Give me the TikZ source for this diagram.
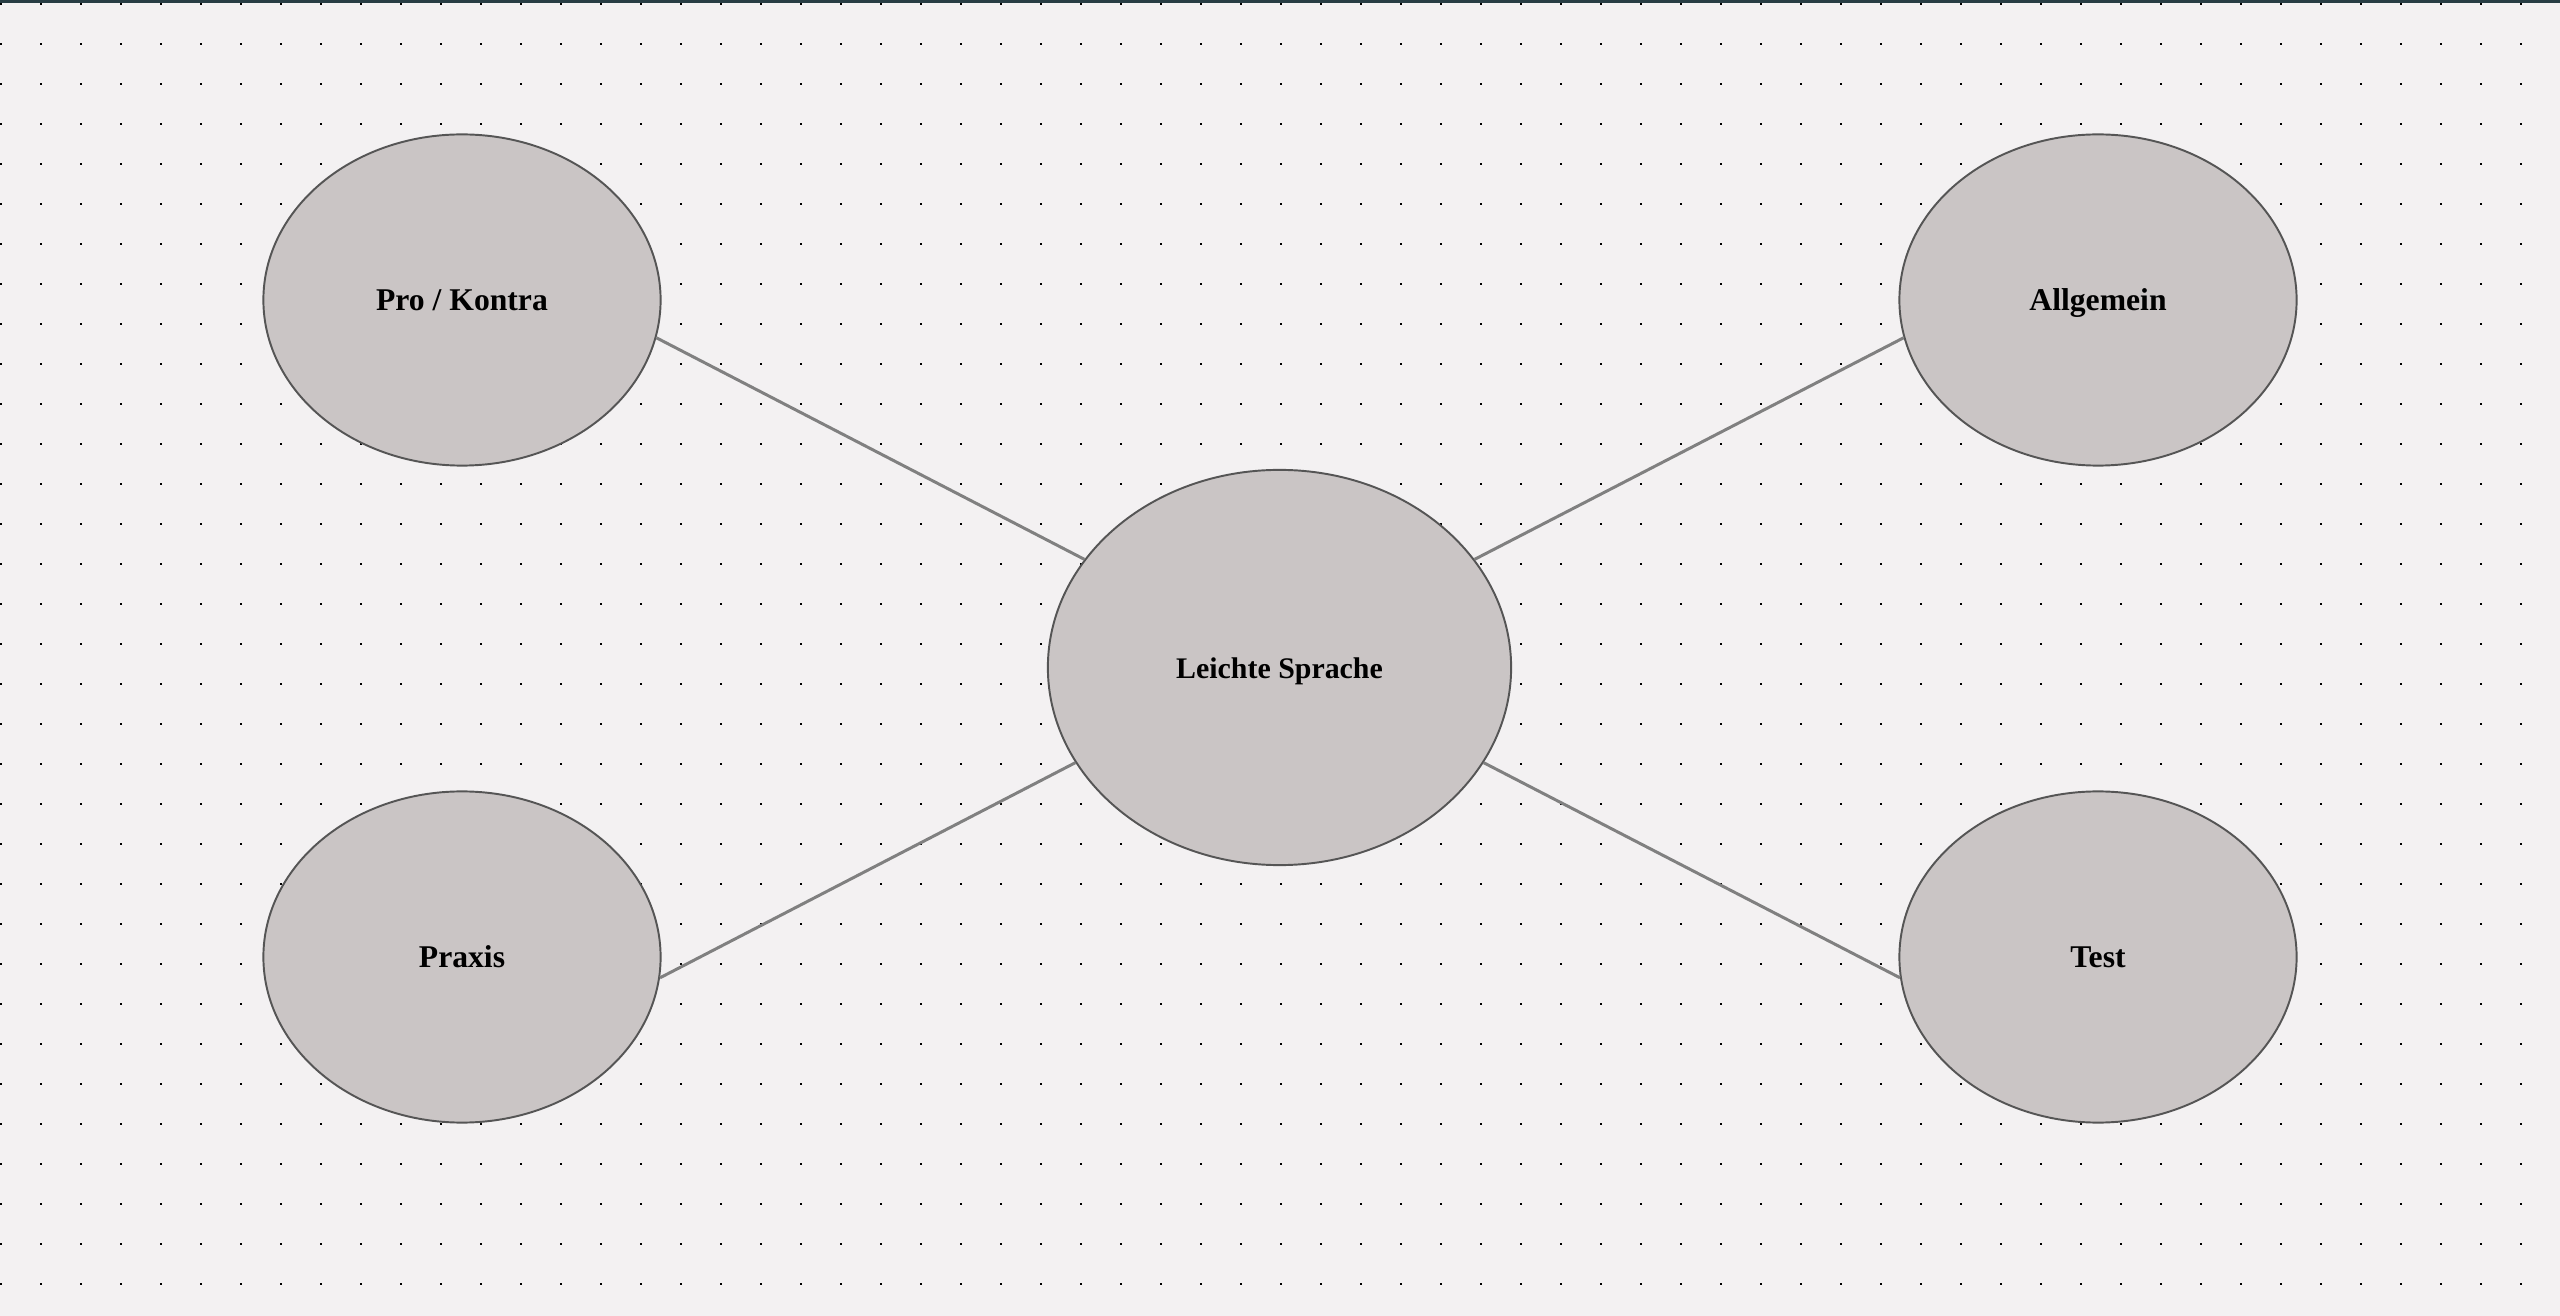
\documentclass[tikz,border=0pt]{standalone}
\usepackage{fontspec}
\setmainfont{Liberation Serif}
\usetikzlibrary{shapes.geometric}
\definecolor{bgcol}{HTML}{F3F1F2}
\definecolor{ellfill}{HTML}{CAC5C5}
\definecolor{ellline}{HTML}{555555}
\definecolor{conncol}{HTML}{808080}
\definecolor{barcol}{HTML}{283D44}
\tikzset{
  topic/.style={ellipse, draw=ellline, fill=ellfill, line width=0.55pt, inner sep=0pt,
    text height=1.35ex, text depth=0pt},
  small topic/.style={topic, minimum width=3.97cm, minimum height=3.31cm,
    font=\fontsize{9pt}{11pt}\selectfont\bfseries},
  big topic/.style={topic, minimum width=4.63cm, minimum height=3.95cm,
    font=\fontsize{8.5pt}{10pt}\selectfont\bfseries},
  conn/.style={draw=conncol, line width=0.85pt},
  griddot/.style={fill=black}
}
\begin{document}
\begin{tikzpicture}[x=0.01cm, y=-0.01cm]
\useasboundingbox (0,0) rectangle (2560,1316);
\fill[bgcol] (0,0) rectangle (2560,1316);
\foreach \i in {0,...,63} {
  \foreach \j in {0,...,32} {
    \fill[griddot] ({40*\i},{3+40*\j}) rectangle ++(2,2);
  }
}
\fill[barcol] (0,0) rectangle (2560,3);
\node[small topic] (pro) at (462,300) {Pro / Kontra};
\node[small topic] (allg) at (2098,300) {Allgemein};
\node[small topic] (praxis) at (462,957) {Praxis};
\node[small topic] (test) at (2098,957) {Test};
\node[big topic] (ls) at (1279.5,667.5) {Leichte Sprache};
\draw[conn] (pro.-11.5) -- (ls.151.1);
\draw[conn] (allg.191.5) -- (ls.29);
\draw[conn] (praxis.-6.3) -- (ls.205.6);
\draw[conn] (test.186.4) -- (ls.-25.5);
\end{tikzpicture}
\end{document}
